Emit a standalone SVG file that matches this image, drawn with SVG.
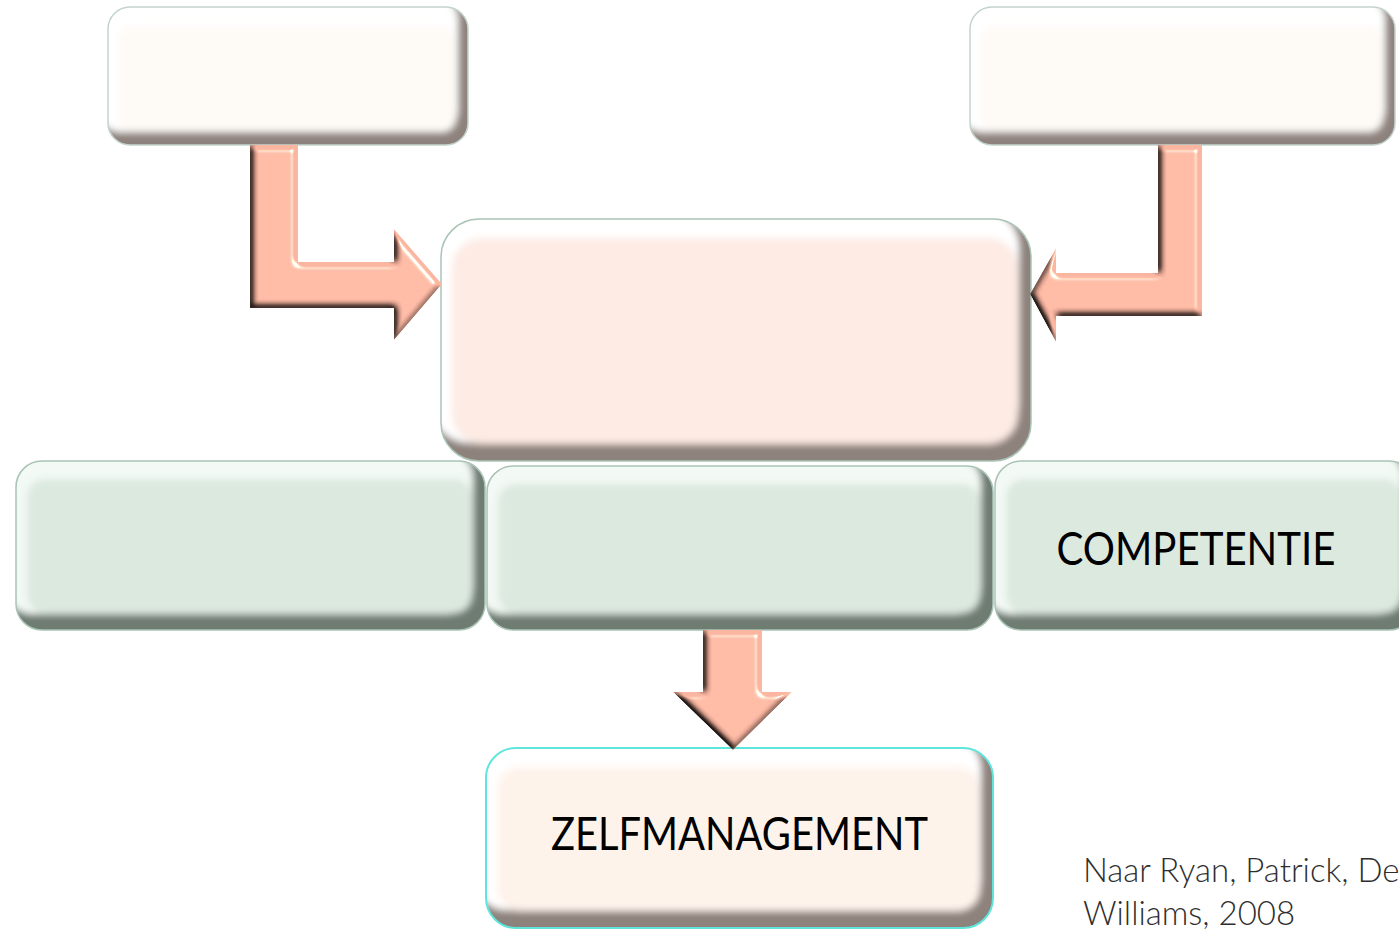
<svg xmlns="http://www.w3.org/2000/svg" width="1399" height="930" viewBox="0 0 1399 930">
  <style>
    .shade-pink { fill: #8e827d; }
    .shade-green { fill: #6e7b72; }
    .hi-pink { fill: #ffffff; }
    .hi-green { fill: #f3f9f4; }
    .face-white { fill: #fefbf7; }
    .face-rose { fill: #fdebe4; }
    .face-cream { fill: #fef3eb; }
    .face-green { fill: #dce9df; }
    .edge { fill: none; stroke-width: 1.5; }
    .edge-grey { stroke: #c3d3cc; }
    .edge-sage { stroke: #a9c3b5; }
    .edge-cyan { stroke: #5fe6dc; stroke-width: 2; }
    .arrow { fill: #fab6a1; filter: url(#arrowBevel); }
    .label { font-family: Lato, "Liberation Sans", sans-serif; font-weight: 400; font-size: 46px; fill: #000; }
    .cite { font-family: Lato, "Liberation Sans", sans-serif; font-weight: 300; font-size: 33px; fill: #2e2e2e; }
  </style>
  <defs>
    <filter id="soft" x="-5%" y="-5%" width="110%" height="110%">
      <feGaussianBlur stdDeviation="3.5"/>
    </filter>
    <filter id="arrowBevel" x="-10%" y="-10%" width="120%" height="120%" color-interpolation-filters="sRGB">
      <feGaussianBlur in="SourceAlpha" stdDeviation="3" result="blur"/>
      <feDiffuseLighting in="blur" surfaceScale="5" diffuseConstant="1.2" lighting-color="#ffffff" result="diff">
        <feDistantLight azimuth="315" elevation="55"/>
      </feDiffuseLighting>
      <feComposite in="SourceGraphic" in2="diff" operator="arithmetic" k1="1" k2="0" k3="0" k4="0" result="shaded"/>
      <feSpecularLighting in="blur" surfaceScale="5" specularConstant="0.6" specularExponent="60" lighting-color="#ffffff" result="spec">
        <feDistantLight azimuth="315" elevation="55"/>
      </feSpecularLighting>
      <feComposite in="spec" in2="SourceAlpha" operator="in" result="specIn"/>
      <feComposite in="shaded" in2="specIn" operator="arithmetic" k1="0" k2="1" k3="1" k4="0" result="lit"/>
      <feComposite in="lit" in2="SourceAlpha" operator="in"/>
    </filter>
    <clipPath id="clip-tl"><rect x="108" y="7" width="360" height="138" rx="22"/></clipPath>
    <clipPath id="clip-tr"><rect x="970" y="7" width="425" height="138" rx="22"/></clipPath>
    <clipPath id="clip-c"><rect x="441" y="219" width="590" height="242" rx="38"/></clipPath>
    <clipPath id="clip-g1"><rect x="16" y="461" width="469" height="169" rx="26"/></clipPath>
    <clipPath id="clip-g2"><rect x="487" y="466" width="506" height="164" rx="26"/></clipPath>
    <clipPath id="clip-g3"><rect x="995" y="461" width="420" height="169" rx="26"/></clipPath>
    <clipPath id="clip-b"><rect x="486" y="748" width="507" height="180" rx="30"/></clipPath>
  </defs>

  <rect width="1399" height="930" fill="#ffffff"/>

  <!-- top left box -->
  <g id="box-top-left">
    <g clip-path="url(#clip-tl)">
      <g filter="url(#soft)">
        <rect class="shade-pink" x="98" y="-3" width="380" height="158"/>
        <rect class="hi-pink" x="98" y="-3" width="360" height="135" rx="22"/>
        <rect class="face-white" x="118" y="26" width="338" height="106" rx="14"/>
      </g>
    </g>
    <rect class="edge edge-grey" x="108" y="7" width="360" height="138" rx="22"/>
  </g>

  <!-- top right box -->
  <g id="box-top-right">
    <g clip-path="url(#clip-tr)">
      <g filter="url(#soft)">
        <rect class="shade-pink" x="960" y="-3" width="445" height="158"/>
        <rect class="hi-pink" x="960" y="-3" width="425" height="135" rx="22"/>
        <rect class="face-white" x="980" y="26" width="403" height="106" rx="14"/>
      </g>
    </g>
    <rect class="edge edge-grey" x="970" y="7" width="425" height="138" rx="22"/>
  </g>

  <!-- central box -->
  <g id="box-center">
    <g clip-path="url(#clip-c)">
      <g filter="url(#soft)">
        <rect class="shade-pink" x="431" y="209" width="610" height="262"/>
        <rect class="hi-pink" x="431" y="209" width="588" height="234" rx="38"/>
        <rect class="face-rose" x="452" y="238" width="566" height="206" rx="30"/>
      </g>
    </g>
    <rect class="edge edge-sage" x="441" y="219" width="590" height="242" rx="38"/>
  </g>

  <!-- green row -->
  <g id="box-green-left">
    <g clip-path="url(#clip-g1)">
      <g filter="url(#soft)">
        <rect class="shade-green" x="6" y="451" width="489" height="189"/>
        <rect class="hi-green" x="6" y="451" width="467" height="163" rx="26"/>
        <rect class="face-green" x="27" y="479" width="445" height="134" rx="18"/>
      </g>
    </g>
    <rect class="edge edge-sage" x="16" y="461" width="469" height="169" rx="26"/>
  </g>

  <g id="box-green-middle">
    <g clip-path="url(#clip-g2)">
      <g filter="url(#soft)">
        <rect class="shade-green" x="477" y="456" width="526" height="184"/>
        <rect class="hi-green" x="477" y="456" width="504" height="158" rx="26"/>
        <rect class="face-green" x="498" y="484" width="482" height="129" rx="18"/>
      </g>
    </g>
    <rect class="edge edge-sage" x="487" y="466" width="506" height="164" rx="26"/>
  </g>

  <g id="box-green-right">
    <g clip-path="url(#clip-g3)">
      <g filter="url(#soft)">
        <rect class="shade-green" x="985" y="451" width="440" height="189"/>
        <rect class="hi-green" x="985" y="451" width="418" height="163" rx="26"/>
        <rect class="face-green" x="1006" y="479" width="396" height="134" rx="18"/>
      </g>
    </g>
    <rect class="edge edge-sage" x="995" y="461" width="420" height="169" rx="26"/>
    <text class="label" x="1196" y="565" text-anchor="middle" textLength="279" lengthAdjust="spacingAndGlyphs">COMPETENTIE</text>
  </g>

  <!-- bottom box -->
  <g id="box-bottom">
    <g clip-path="url(#clip-b)">
      <g filter="url(#soft)">
        <rect class="shade-pink" x="476" y="738" width="527" height="200"/>
        <rect class="hi-pink" x="476" y="738" width="505" height="172" rx="30"/>
        <rect class="face-cream" x="497" y="767" width="483" height="144" rx="22"/>
      </g>
    </g>
    <rect class="edge edge-cyan" x="486" y="748" width="507" height="180" rx="30"/>
    <text class="label" x="739.5" y="850" text-anchor="middle" textLength="377" lengthAdjust="spacingAndGlyphs">ZELFMANAGEMENT</text>
  </g>

  <!-- connectors -->
  <g id="connectors">
    <polygon class="arrow" points="250,145 298,145 298,262 394,262 394,229 442,284 394,340 394,308 250,308"/>
    <polygon class="arrow" points="1158,145 1202,145 1202,316 1056,316 1056,342 1030,294 1056,248 1056,273 1158,273"/>
    <polygon class="arrow" points="703,630 762,630 762,692 792,692 733,750 673,692 703,692"/>
  </g>

  <!-- source note -->
  <g id="source-note">
    <text class="cite" x="1083" y="882">Naar Ryan, Patrick, De</text>
    <text class="cite" x="1083" y="925">Williams, 2008</text>
  </g>
</svg>
